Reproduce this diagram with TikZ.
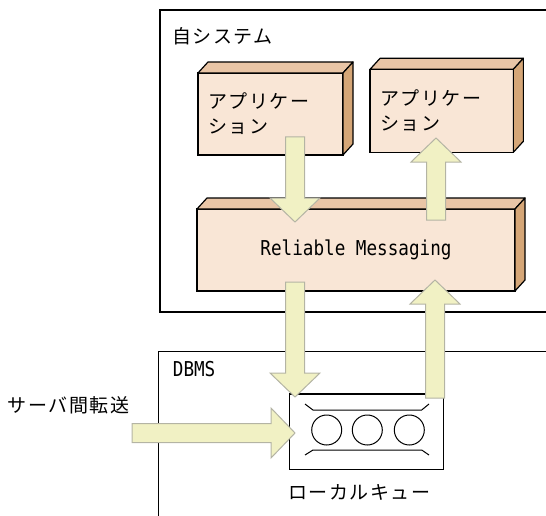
\documentclass[tikz,border=0pt]{standalone}
\usepackage{fontspec}
\setmainfont{Noto Sans CJK JP}
\newfontfamily\jpfont{Noto Sans CJK JP}[LetterSpace=8]
\newfontfamily\monofont{DejaVu Sans Mono}
\usetikzlibrary{calc}

\definecolor{facefront}{HTML}{F9E6D6}
\definecolor{facetop}{HTML}{E9C5A6}
\definecolor{faceside}{HTML}{D5A677}
\definecolor{arrowfill}{HTML}{F1F1C4}
\definecolor{arrowedge}{HTML}{B4B4A4}

\newcommand{\mono}[1]{\scalebox{0.86}[1]{\monofont\fontsize{20.5}{24}\selectfont #1}}
\newcommand{\boxfaces}[1]{%
  \draw[topface] (#1.north west) -- ++(10,-11) -- ([shift={(10,-11)}]#1.north east) -- (#1.north east) -- cycle;
  \draw[sideface] (#1.north east) -- ++(10,-11) -- ([shift={(10,-11)}]#1.south east) -- (#1.south east) -- cycle;}
\newcommand{\fatarrow}[2]{%
  \coordinate (#2-base) at ($(#2)!24pt!(#1)$);
  \draw[blockarrow] ($(#1)!9.5pt!90:(#2)$) -- ($(#2-base)!9.5pt!90:(#2)$) -- ($(#2-base)!25pt!90:(#2)$) -- (#2)
    -- ($(#2-base)!25pt!-90:(#2)$) -- ($(#2-base)!9.5pt!-90:(#2)$) -- ($(#1)!9.5pt!-90:(#2)$) -- cycle;}

\tikzset{
  frame/.style={draw, line width=1.1pt},
  jp/.style={font=\jpfont\fontsize{19}{25}\selectfont},
  front/.style={draw, fill=facefront, line width=1.2pt, outer sep=0pt, inner xsep=10pt, inner ysep=0pt},
  topface/.style={fill=facetop, draw, line width=1.2pt, line join=round},
  sideface/.style={fill=faceside, draw, line width=1.2pt, line join=round},
  slot/.style={circle, draw, line width=1pt, minimum size=30pt, inner sep=0pt},
  blockarrow/.style={draw=arrowedge, fill=arrowfill, line width=1pt, line join=miter}
}

\begin{document}
\begin{tikzpicture}[x=1pt, y=-1pt]
\clip (0,0) rectangle (546,516);
% system and database frames
\draw[frame] (160,10) rectangle (560,312);
\draw[frame] (158.5,351.5) rectangle (560,530);
\node[jp, anchor=west, inner sep=0pt] (sys) at (172,36) {自システム};
\node[anchor=west, inner sep=0pt] (dbms) at (172.7,369) {\mono{DBMS}};

% applications and messaging layer
\node[front, jp, align=left, text width=125pt, minimum width=145, minimum height=82] (app1) at (270.5,114) {アプリケー\\ション};
\boxfaces{app1}
\node[front, jp, align=left, text width=123.3pt, minimum width=143.3, minimum height=83] (app2) at (441.7,110.8) {アプリケー\\ション};
\boxfaces{app2}
\node[front, minimum width=318, minimum height=82] (rm) at (356,250) {\mono{Reliable Messaging}};
\boxfaces{rm}

% local queue
\node[draw, line width=1.2pt, outer sep=0pt, minimum width=154, minimum height=75.3] (queue) at (366.3,431.7) {};
\node[slot] (s1) at (326.7,430) {};
\node[slot] (s2) at (367.3,430) {};
\node[slot] (s3) at (409.3,430) {};
\draw[line width=1pt] (305,404) -- (313,410) -- (421.7,410) -- (429,404);
\draw[line width=1pt] (305,455) -- (313,450) -- (421.7,450) -- (429,455);
\node[jp, anchor=west, inner sep=0pt] (qname) at (288,492) {ローカルキュー};

% transfers
\coordinate (app1out) at (295,137);
\coordinate (rmin) at (295,222);
\coordinate (rmout) at (436,220);
\coordinate (app2in) at (436,138);
\coordinate (rmdown) at (295,282);
\coordinate (qin) at (295,397);
\coordinate (qout) at (435,398);
\coordinate (rmup) at (435,280);
\coordinate (remote) at (132,433);
\coordinate (qleft) at (295,433);
\fatarrow{app1out}{rmin}
\fatarrow{rmout}{app2in}
\fatarrow{rmdown}{qin}
\fatarrow{qout}{rmup}
\fatarrow{remote}{qleft}
\node[jp, anchor=west, inner sep=0pt] (xfer) at (7.5,405.7) {サーバ間転送};
\end{tikzpicture}
\end{document}
